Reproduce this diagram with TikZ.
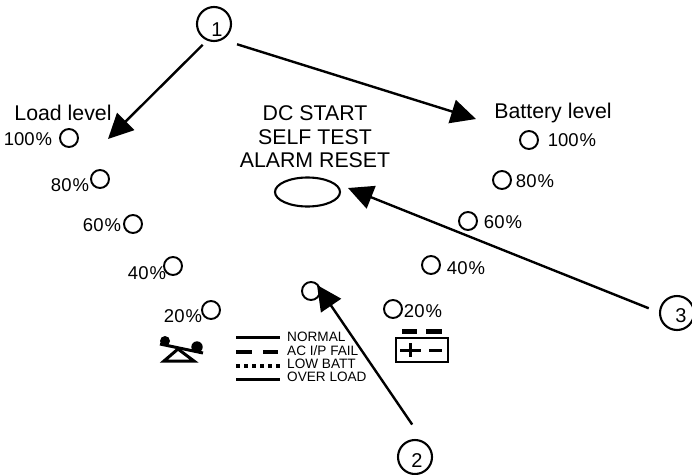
\documentclass[tikz,border=0pt]{standalone}
\usepackage{fontspec}
\setmainfont{Liberation Sans}
\usetikzlibrary{arrows.meta,shapes.geometric}
\tikzset{
  led/.style={draw, circle, line width=1.9pt, inner sep=0pt, minimum size=18pt},
  badge/.style={draw, circle, line width=2.1pt, inner sep=0pt, minimum size=34pt},
  badgetext/.style={inner sep=0pt, font=\fontsize{20}{20}\selectfont},
  pct/.style={inner sep=0pt, font=\fontsize{18.5}{18.5}\selectfont},
  heading/.style={inner sep=0pt, align=center, font=\fontsize{21.3}{23.5}\selectfont},
  legendtext/.style={inner sep=0pt, anchor=base west, font=\fontsize{13.6}{13.6}\selectfont},
  legendline/.style={line width=3.8pt},
  pointer/.style={line width=2.4pt, -{Triangle[length=25pt,width=24pt]}},
}
\begin{document}
\begin{tikzpicture}[x=1pt,y=-1pt]
   \useasboundingbox (0,0) rectangle (692,474);

   % headings
   \node[heading] (loadlevel) at (63,113) {Load level};
   \node[heading] (batterylevel) at (553,113) {Battery level};
   \node[heading] (dcstart) at (315,137) {DC START\\SELF TEST\\ALARM RESET};
   \node[draw, ellipse, line width=2.1pt, inner sep=0pt, minimum width=65pt, minimum height=29pt] (button) at (307.5,192) {};

   % load leds
   \node[led] (load100) at (69,138) {};
   \node[led] (load80) at (100,179) {};
   \node[led] (load60) at (133,224) {};
   \node[led] (load40) at (173,266) {};
   \node[led] (load20) at (211,310) {};
   \node[pct] (loadtext100) at (28,139) {100\kern1pt\%};
   \node[pct] (loadtext80) at (70,185) {80\kern1pt\%};
   \node[pct] (loadtext60) at (102,225) {60\kern1pt\%};
   \node[pct] (loadtext40) at (147,273) {40\kern1pt\%};
   \node[pct] (loadtext20) at (183,316) {20\kern1pt\%};

   % battery leds
   \node[led] (batt100) at (529,140) {};
   \node[led] (batt80) at (502,180) {};
   \node[led] (batt60) at (468,221) {};
   \node[led] (batt40) at (431,265) {};
   \node[led] (batt20) at (393,309) {};
   \node[pct] (batttext100) at (572,140) {100\kern1pt\%};
   \node[pct] (batttext80) at (535,181) {80\kern1pt\%};
   \node[pct] (batttext60) at (503,222) {60\kern1pt\%};
   \node[pct] (batttext40) at (466,268) {40\kern1pt\%};
   \node[pct] (batttext20) at (423,311) {20\kern1pt\%};

   \node[led] (middle) at (311,291) {};

   % legend
   \draw[legendline] (236,337.5) -- (280,337.5);
   \draw[legendline] (236,352) -- (252,352) (263,352) -- (278,352);
   \draw[legendline, dash pattern=on 4pt off 4pt] (236,366) -- (281,366);
   \draw[legendline] (236,379.5) -- (280,379.5);
   \node[legendtext] (normal) at (287,341) {NORMAL};
   \node[legendtext] (acfail) at (287,355) {AC I/P FAIL};
   \node[legendtext] (lowbatt) at (287,368) {LOW BATT};
   \node[legendtext] (overload) at (287,381) {OVER LOAD};

   % seesaw
   \draw[line width=3pt] (178,349) -- (164,361) -- (194,361) -- cycle;
   \draw[line width=3pt] (160,344) -- (203,353);
   \fill (165,341) circle (5);
   \fill (197,347) circle (5.7);

   % battery
   \draw[line width=2.6pt] (396,338) rectangle (448,362);
   \fill (402,329) rectangle (417,334);
   \fill (426,329) rectangle (442,334);
   \draw[line width=3pt] (400,350) -- (421,350) (410,343) -- (410,357);
   \draw[line width=3pt] (429,350) -- (442,350);

   % callouts
   \node[badge] (one) at (214,24) {};
   \node[badge] (two) at (415,457) {};
   \node[badge] (three) at (677,313) {};
   \node[badgetext] (onetext) at (217,30) {1};
   \node[badgetext] (twotext) at (417,461) {2};
   \node[badgetext] (threetext) at (681,316) {3};

   \coordinate (loadtip) at (108,139);
   \coordinate (batterytip) at (476,119);
   \coordinate (buttontip) at (348,188);
   \coordinate (middletip) at (317,285);

   \draw[pointer, shorten <=6pt] (one.-113) -- (loadtip);
   \draw[pointer, shorten <=15pt] (one.-61) -- (batterytip);
   \draw[pointer, shorten <=11pt] (three.178) -- (buttontip);
   \draw[pointer, shorten <=20pt] (two.62) -- (middletip);
\end{tikzpicture}
\end{document}
